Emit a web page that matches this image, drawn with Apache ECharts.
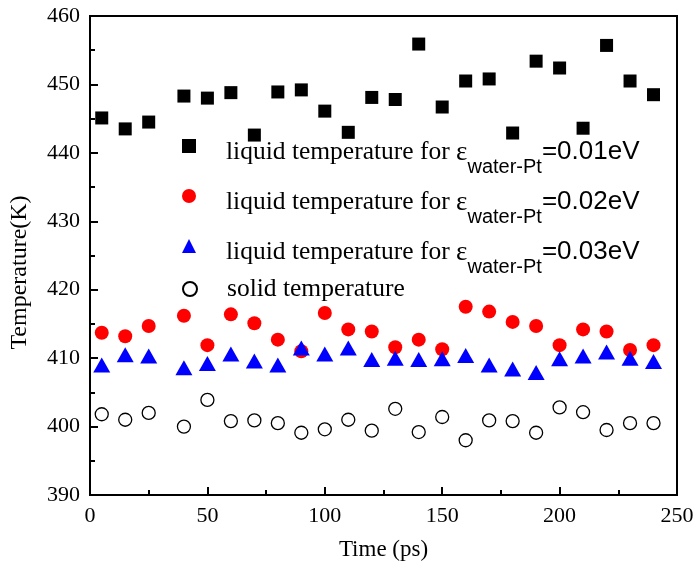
<!DOCTYPE html>
<html>
<head>
<meta charset="utf-8">
<script src="https://cdn.jsdelivr.net/npm/echarts@6/dist/echarts.min.js"></script>
<style>
html,body{margin:0;padding:0;background:#fff;}
#chart{width:700px;height:575px;}
</style>
</head>
<body>
<div id="chart"></div>
<script>
// Time (ps)
const times = [5,15,25,40,50,60,70,80,90,100,110,120,130,140,150,160,170,180,190,200,210,220,230,240];
// liquid temperature, eps = 0.01 eV
const liquid001 = [445.1,443.5,444.5,448.3,448.0,448.8,442.6,448.9,449.2,446.1,443.0,448.1,447.8,455.9,446.7,450.5,450.8,442.9,453.4,452.4,443.6,455.7,450.5,448.5];
// liquid temperature, eps = 0.02 eV
const liquid002 = [413.7,413.2,414.7,416.2,411.9,416.4,415.1,412.7,411.0,416.6,414.2,413.9,411.6,412.7,411.3,417.5,416.8,415.3,414.7,411.9,414.2,413.9,411.2,411.9];
// liquid temperature, eps = 0.03 eV
const liquid003 = [409.0,410.5,410.3,408.6,409.2,410.6,409.6,409.0,411.5,410.6,411.5,409.8,410.0,409.8,409.9,410.4,409.0,408.4,407.9,409.9,410.3,410.9,410.0,409.5];
// solid temperature
const solid = [401.8,401.0,402.0,400.0,403.9,400.8,400.9,400.5,399.1,399.6,401.0,399.4,402.6,399.2,401.4,398.0,400.9,400.8,399.1,402.8,402.1,399.5,400.5,400.5];

const seriesNames = ['liquid 0.01', 'liquid 0.02', 'liquid 0.03', 'solid temperature'];
const epsValues = ['0.01', '0.02', '0.03'];
const xTicks = [0, 50, 100, 150, 200, 250];
const yTicks = [390, 400, 410, 420, 430, 440, 450, 460];

const pair = arr => times.map((t, i) => [t, arr[i]]);

const serif = 'Liberation Serif';
const sans = 'Liberation Sans';

const rich = {
  a: {fontFamily: serif, fontSize: 25.5, lineHeight: 28, padding: [7, 0, 7, 25], color: '#000', verticalAlign: 'top'},
  e: {fontFamily: serif, fontSize: 27, lineHeight: 28, padding: [7, 0, 7, 0], color: '#000', verticalAlign: 'top'},
  s: {fontFamily: sans, fontSize: 20, lineHeight: 20, padding: [25, 0, 0, 0], color: '#000', verticalAlign: 'top'},
  b: {fontFamily: sans, fontSize: 26, lineHeight: 28, padding: [7, 0, 7, 0], color: '#000', verticalAlign: 'top'},
  p: {fontFamily: serif, fontSize: 25.5, lineHeight: 28, padding: [0, 0, 0, 25], color: '#000'}
};

function legendFor(idx, top) {
  return {
    data: [seriesNames[idx]],
    left: 182,
    top: top,
    padding: 0,
    itemWidth: 14,
    itemHeight: 14,
    selectedMode: false,
    textStyle: {rich: rich},
    formatter: function () {
      if (idx < 3) {
        return '{a|liquid temperature for }{e|ε}{s|water-Pt}{b|=' + epsValues[idx] + 'eV}';
      }
      return '{p|solid temperature}';
    }
  };
}

const chart = echarts.init(document.getElementById('chart'), null, {renderer: 'canvas'});
chart.setOption({
  animation: false,
  backgroundColor: '#fff',
  grid: {left: 86, right: 23, top: 16, bottom: 80, show: true, borderColor: '#000', borderWidth: 2, backgroundColor: 'transparent'},
  legend: [legendFor(0, 132), legendFor(1, 182), legendFor(2, 232), legendFor(3, 276)],
  xAxis: {
    type: 'value', min: xTicks[0], max: xTicks[xTicks.length - 1], interval: 50,
    name: 'Time (ps)', nameLocation: 'middle', nameGap: 43,
    nameTextStyle: {fontFamily: serif, fontSize: 23, color: '#000'},
    axisLine: {lineStyle: {color: '#000', width: 2}},
    axisTick: {inside: true, length: 8, lineStyle: {color: '#000', width: 2}},
    minorTick: {show: true, splitNumber: 2, length: 5, lineStyle: {color: '#000', width: 2}},
    axisLabel: {fontFamily: serif, fontSize: 22, color: '#000', margin: 10},
    splitLine: {show: false}
  },
  yAxis: {
    type: 'value', min: yTicks[0], max: yTicks[yTicks.length - 1], interval: 10,
    name: 'Temperature(K)', nameLocation: 'middle', nameGap: 58,
    nameTextStyle: {fontFamily: serif, fontSize: 24, color: '#000', padding: [0, 34, 0, 0]},
    axisLine: {lineStyle: {color: '#000', width: 2}},
    axisTick: {inside: true, length: 8, lineStyle: {color: '#000', width: 2}},
    minorTick: {show: true, splitNumber: 2, length: 5, lineStyle: {color: '#000', width: 2}},
    axisLabel: {fontFamily: serif, fontSize: 22, color: '#000', margin: 10},
    splitLine: {show: false}
  },
  series: [
    {name: seriesNames[0], type: 'scatter', data: pair(liquid001), symbol: 'rect', symbolSize: 13,
     itemStyle: {color: '#000', opacity: 1}},
    {name: seriesNames[1], type: 'scatter', data: pair(liquid002), symbol: 'circle', symbolSize: 14,
     itemStyle: {color: '#ff0000', opacity: 1}},
    {name: seriesNames[2], type: 'scatter', data: pair(liquid003), symbol: 'triangle', symbolSize: [17, 15],
     itemStyle: {color: '#0000ff', opacity: 1}},
    {name: seriesNames[3], type: 'scatter', data: pair(solid), symbol: 'circle', symbolSize: 13,
     itemStyle: {color: '#fff', borderColor: '#000', borderWidth: 1.3, opacity: 1}}
  ]
});
</script>
</body>
</html>
